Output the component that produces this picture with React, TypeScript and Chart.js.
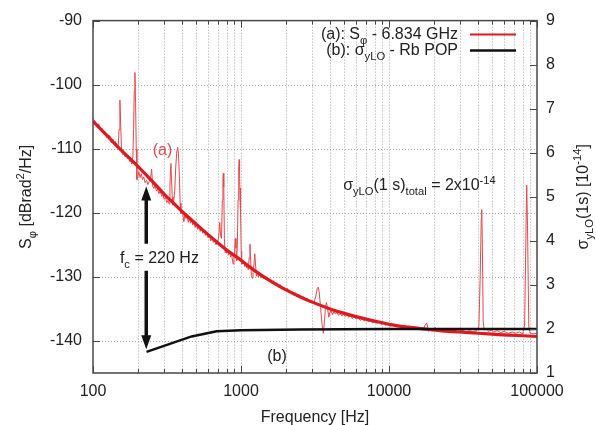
import React, { useEffect, useRef } from 'react';
import { Chart, registerables } from 'chart.js';

Chart.register(...registerables);

// ---------- data ----------
const FREQ_NOISY = [
  100, 103, 106, 109, 112, 115, 118, 121, 124, 127, 130, 133, 136, 139, 142, 145, 148, 150, 152, 154, 156, 159, 162, 165, 168, 171, 174, 177, 180, 183, 186, 188, 190, 192, 194, 196, 198,
  201, 204, 208, 212, 216, 220, 225, 230, 235, 240, 245, 249, 253, 258, 263, 268, 273, 279, 285, 291, 297, 303, 309, 315, 321, 327, 331, 334, 336, 339, 343, 347, 352, 357, 362, 368, 374, 378, 383, 388, 393, 399,
  405, 411, 418, 425, 432, 440, 448, 456, 464, 472, 480, 490, 500, 510, 520, 530, 541, 552, 563, 575, 587, 599, 611, 624, 637, 650, 663, 677, 691, 705, 718, 728, 738, 748, 755, 760, 765, 772, 780, 790,
  800, 812, 825, 838, 850, 862, 873, 885, 895, 905, 915, 925, 935, 945, 955, 965, 972, 978, 985, 990, 996,
  1003, 1010, 1020, 1030, 1045, 1060, 1075, 1090, 1105, 1120, 1135, 1150, 1162, 1175, 1190, 1205, 1220, 1240, 1255, 1270, 1290, 1310, 1335, 1360, 1390, 1420, 1450, 1480, 1510, 1545, 1580, 1620, 1660, 1700, 1745, 1790, 1840, 1890, 1940,
  2000, 2060, 2120, 2190, 2260, 2330, 2400, 2480, 2560, 2640, 2730, 2820, 2910, 3000, 3100, 3200, 3280, 3330, 3380, 3450, 3530, 3600, 3660, 3720, 3780, 3850, 3920, 3990, 4070, 4150, 4250, 4350, 4450, 4560, 4680, 4800, 4930,
  5060, 5200, 5350, 5500, 5650, 5800, 6000, 6200, 6400, 6600, 6800, 7000, 7250, 7500, 7750, 8000, 8300, 8600, 8900, 9200, 9500, 9800,
  10200, 10600, 11000, 11500, 12000, 12500, 13000, 13600, 14200, 14800, 15500, 16200, 17000, 17500, 18000, 18500, 19000, 19800, 20600, 21500, 22500, 23500, 24500, 26000, 27500, 29000, 31000, 33000, 35000, 37000, 39000,
  40500, 41300, 42000, 42300, 42700, 43300, 44000, 45500, 47000, 49000, 51000, 54000, 57000, 60000, 64000, 68000, 72000, 76000, 80000, 82500, 84000, 85200, 86300, 88000, 90000, 94000, 100000,
];
const S_NOISY = [
  -105.3, -105.9, -106.4, -106.1, -107.0, -106.8, -107.6, -107.4, -108.3, -107.9, -108.0, -109.1, -108.5, -109.3, -108.9, -109.8, -109.5, -107.0, -102.4, -106.5, -110.3, -110.9, -110.5, -111.3, -110.9, -111.6, -111.2, -112.0, -111.9, -112.4, -111.2, -107.0, -101.0, -98.1, -103.0, -110.0, -114.8,
  -114.3, -113.6, -114.5, -113.9, -114.8, -114.4, -115.3, -114.9, -115.6, -115.1, -114.6, -113.2, -115.8, -116.2, -115.7, -116.6, -116.3, -117.0, -116.6, -117.4, -117.2, -117.9, -117.6, -118.4, -118.1, -118.6, -116.0, -113.0, -112.3, -114.5, -117.5, -118.8, -118.0, -116.5, -113.0, -110.5, -109.8, -110.8, -114.0, -118.5, -120.1, -119.6,
  -120.3, -121.4, -120.2, -120.9, -120.4, -121.5, -120.8, -121.6, -121.0, -121.9, -121.4, -122.3, -121.7, -122.6, -122.0, -122.9, -122.4, -123.2, -122.7, -123.5, -123.0, -123.9, -123.4, -124.4, -123.8, -124.6, -124.1, -125.0, -124.6, -124.0, -121.5, -123.5, -124.0, -118.0, -114.5, -113.8, -116.0, -124.0, -126.2, -125.6,
  -126.3, -125.9, -126.6, -126.1, -126.9, -126.4, -127.2, -128.0, -127.0, -126.0, -124.0, -125.5, -127.5, -125.0, -118.0, -113.0, -111.7, -113.5, -118.0, -116.1, -120.0,
  -126.0, -128.0, -127.5, -128.0, -127.5, -128.4, -127.9, -128.6, -128.1, -128.9, -127.0, -124.9, -127.5, -129.8, -130.2, -129.3, -128.3, -126.4, -128.3, -129.9, -129.3, -130.0, -129.5, -130.1, -129.7, -130.3, -129.9, -130.5, -130.1, -130.7, -130.3, -131.0, -130.6, -131.3, -130.9, -131.6, -131.2, -131.9, -131.6,
  -132.2, -131.8, -132.5, -132.2, -132.8, -132.5, -133.1, -132.8, -133.4, -133.1, -133.7, -133.4, -134.0, -133.7, -134.2, -133.0, -131.8, -131.6, -132.5, -134.8, -137.5, -138.8, -137.0, -134.8, -134.0, -135.0, -136.3, -135.5, -135.3, -135.9, -135.4, -135.8, -135.5, -136.0, -135.7, -136.1, -135.8,
  -136.2, -135.9, -136.3, -136.0, -136.5, -136.2, -136.6, -136.3, -136.8, -136.5, -136.9, -136.6, -137.0, -136.8, -137.2, -136.9, -137.3, -137.0, -137.5, -137.2, -137.6, -137.3,
  -137.7, -137.4, -137.8, -137.5, -137.9, -137.6, -138.0, -137.7, -138.1, -137.8, -138.2, -137.9, -138.2, -137.6, -137.2, -138.5, -138.2, -138.3, -137.9, -138.4, -138.1, -138.5, -138.2, -138.5, -138.3, -138.6, -138.3, -138.6, -138.4, -138.6, -138.4,
  -137.8, -130.0, -121.0, -119.5, -124.0, -137.0, -138.3, -138.1, -138.5, -138.3, -138.6, -138.4, -138.7, -138.5, -138.8, -138.6, -138.8, -138.6, -138.9, -137.5, -125.0, -115.7, -122.0, -137.8, -138.8, -138.9, -138.8,
];

const FREQ_FIT = [100, 125, 150, 200, 250, 300, 350, 400, 500, 600, 700, 800, 1000, 1250, 1500, 2000, 2500, 3000, 4000, 5000, 6500, 8000, 10000, 13000, 17000, 22000, 30000, 40000, 55000, 75000, 100000];
const S_FIT = [-105.7, -108.0, -109.9, -112.7, -115.0, -117.0, -118.5, -119.8, -121.8, -123.4, -124.7, -125.8, -127.4, -129.1, -130.3, -132.0, -133.1, -133.9, -135.0, -135.7, -136.4, -136.9, -137.4, -137.8, -138.1, -138.4, -138.6, -138.8, -139.0, -139.15, -139.3];

const FREQ_B = [230, 464, 685, 1000, 2500, 10000, 100000];
const SIGMA_B = [1.48, 1.83, 1.95, 1.97, 1.99, 2.0, 2.0];

const X_LABELS = [100, 1000, 10000, 100000];
const Y_TICKS = [-140, -130, -120, -110, -100, -90];
const Y2_TICKS = [1, 2, 3, 4, 5, 6, 7, 8, 9];

// annotation anchors (data units)
const ARROW_FREQ = 229;
const ARROW_TOP_DB = -115.9;
const ARROW_BOTTOM_DB = -141.3;
const FC_LABEL_FREQ = 152;
const FC_LABEL_DB = -127;
const LABEL_A = { f: 295, db: -110.1 };
const LABEL_B = { f: 1750, db: -142.2 };
const SIGMA_NOTE = { f: 4900, db: -115.6 };

// ---------- styles ----------
const FONT = '"Liberation Sans", Arial, Helvetica, sans-serif';
const FS = 16;
const TEXT = '#222222';
const RED_THIN = '#e8474c';
const RED_FIT = '#e0191f';
const BLACK = '#111111';
const GRID = '#a8a8a8';
const FRAME = '#474747';

type Part = { t: string; k?: 'sub' | 'sup' };

function setFont(ctx: CanvasRenderingContext2D, size: number) {
  ctx.font = `${size}px ${FONT}`;
}
function partsWidth(ctx: CanvasRenderingContext2D, parts: Part[], size: number) {
  let w = 0;
  for (const p of parts) {
    setFont(ctx, p.k ? size * 0.7 : size);
    w += ctx.measureText(p.t).width;
  }
  return w;
}
function drawRich(
  ctx: CanvasRenderingContext2D,
  parts: Part[],
  x: number,
  y: number,
  size: number,
  align: 'left' | 'center' | 'right',
  color: string
) {
  const w = partsWidth(ctx, parts, size);
  let cx = align === 'left' ? x : align === 'center' ? x - w / 2 : x - w;
  ctx.fillStyle = color;
  ctx.textAlign = 'left';
  ctx.textBaseline = 'alphabetic';
  const base = y + size * 0.36;
  for (const p of parts) {
    const s = p.k ? size * 0.7 : size;
    setFont(ctx, s);
    const dy = p.k === 'sub' ? size * 0.3 : p.k === 'sup' ? -size * 0.42 : 0;
    ctx.fillText(p.t, cx, base + dy);
    cx += ctx.measureText(p.t).width;
  }
}

function buildLogTicks() {
  const t: { value: number }[] = [];
  for (let d = 100; d < 100000; d *= 10) {
    for (let m = 1; m <= 9; m++) t.push({ value: m * d });
  }
  t.push({ value: 100000 });
  return t;
}

const gridPlugin = {
  id: 'gridManual',
  beforeDatasetsDraw(chart: any) {
    const { ctx, chartArea: a, scales } = chart;
    const xs = scales.x;
    const ys = scales.y;
    ctx.save();
    ctx.strokeStyle = GRID;
    ctx.lineWidth = 1;
    ctx.setLineDash([1, 2]);
    ctx.beginPath();
    for (const tk of xs.ticks) {
      const px = Math.round(xs.getPixelForValue(tk.value)) + 0.5;
      if (px <= a.left + 1 || px >= a.right - 1) continue;
      ctx.moveTo(px, a.top);
      ctx.lineTo(px, a.bottom);
    }
    for (const v of Y_TICKS) {
      const py = Math.round(ys.getPixelForValue(v)) + 0.5;
      if (py <= a.top + 1 || py >= a.bottom - 1) continue;
      ctx.moveTo(a.left, py);
      ctx.lineTo(a.right, py);
    }
    ctx.stroke();
    ctx.restore();
  },
};

const decorPlugin = {
  id: 'decor',
  afterDraw(chart: any) {
    const { ctx, chartArea: a, scales } = chart;
    const xs = scales.x;
    const ys = scales.y;
    const y2 = scales.y2;
    ctx.save();

    // frame
    ctx.strokeStyle = FRAME;
    ctx.lineWidth = 1.5;
    ctx.strokeRect(a.left, a.top, a.right - a.left, a.bottom - a.top);

    // inward ticks
    ctx.lineWidth = 1;
    ctx.beginPath();
    for (const tk of xs.ticks) {
      const v = tk.value;
      const px = Math.round(xs.getPixelForValue(v)) + 0.5;
      const major = X_LABELS.includes(v);
      const len = major ? 7 : 4;
      ctx.moveTo(px, a.bottom);
      ctx.lineTo(px, a.bottom - len);
      ctx.moveTo(px, a.top);
      ctx.lineTo(px, a.top + len);
    }
    for (const v of Y_TICKS) {
      const py = Math.round(ys.getPixelForValue(v)) + 0.5;
      ctx.moveTo(a.left, py);
      ctx.lineTo(a.left + 7, py);
    }
    for (const v of Y2_TICKS) {
      const py = Math.round(y2.getPixelForValue(v)) + 0.5;
      ctx.moveTo(a.right, py);
      ctx.lineTo(a.right - 7, py);
    }
    ctx.stroke();

    // axis titles
    drawRich(ctx, [{ t: 'Frequency [Hz]' }], (a.left + a.right) / 2, 416, FS, 'center', TEXT);

    const midY = (a.top + a.bottom) / 2;
    ctx.save();
    ctx.translate(25, midY);
    ctx.rotate(-Math.PI / 2);
    drawRich(
      ctx,
      [{ t: 'S' }, { t: 'φ', k: 'sub' }, { t: ' [dBrad' }, { t: '2', k: 'sup' }, { t: '/Hz]' }],
      0,
      0,
      FS,
      'center',
      TEXT
    );
    ctx.restore();

    ctx.save();
    ctx.translate(582, midY);
    ctx.rotate(-Math.PI / 2);
    drawRich(
      ctx,
      [{ t: 'σ' }, { t: 'yLO', k: 'sub' }, { t: '(1s) [10' }, { t: '-14', k: 'sup' }, { t: ']' }],
      0,
      0,
      FS,
      'center',
      TEXT
    );
    ctx.restore();

    // legend
    const legRight = a.right - 79;
    const row1 = a.top + 13;
    const row2 = a.top + 29;
    drawRich(ctx, [{ t: '(a): S' }, { t: 'φ', k: 'sub' }, { t: ' - 6.834 GHz' }], legRight, row1, FS, 'right', TEXT);
    drawRich(ctx, [{ t: '(b): σ' }, { t: 'yLO', k: 'sub' }, { t: ' - Rb POP' }], legRight, row2, FS, 'right', TEXT);
    ctx.lineWidth = 2;
    ctx.strokeStyle = RED_FIT;
    ctx.beginPath();
    ctx.moveTo(a.right - 67, row1 + 1);
    ctx.lineTo(a.right - 21, row1 + 1);
    ctx.stroke();
    ctx.lineWidth = 2.5;
    ctx.strokeStyle = BLACK;
    ctx.beginPath();
    ctx.moveTo(a.right - 67, row2 + 1);
    ctx.lineTo(a.right - 21, row2 + 1);
    ctx.stroke();

    // labels
    drawRich(ctx, [{ t: '(a)' }], xs.getPixelForValue(LABEL_A.f), ys.getPixelForValue(LABEL_A.db), FS, 'center', RED_THIN);
    drawRich(ctx, [{ t: '(b)' }], xs.getPixelForValue(LABEL_B.f), ys.getPixelForValue(LABEL_B.db), FS, 'center', TEXT);
    drawRich(
      ctx,
      [{ t: 'σ' }, { t: 'yLO', k: 'sub' }, { t: '(1 s)' }, { t: 'total', k: 'sub' }, { t: ' = 2x10' }, { t: '-14', k: 'sup' }],
      xs.getPixelForValue(SIGMA_NOTE.f),
      ys.getPixelForValue(SIGMA_NOTE.db),
      FS,
      'left',
      TEXT
    );

    // f_c arrow
    const ax = xs.getPixelForValue(ARROW_FREQ);
    const aTop = ys.getPixelForValue(ARROW_TOP_DB);
    const aBot = ys.getPixelForValue(ARROW_BOTTOM_DB);
    const ty = ys.getPixelForValue(FC_LABEL_DB);
    const headL = 14;
    const headW = 5;
    ctx.strokeStyle = BLACK;
    ctx.fillStyle = BLACK;
    ctx.lineWidth = 3.5;
    ctx.beginPath();
    ctx.moveTo(ax, aTop + headL - 1);
    ctx.lineTo(ax, ty - 14);
    ctx.moveTo(ax, ty + 13);
    ctx.lineTo(ax, aBot - headL + 1);
    ctx.stroke();
    ctx.beginPath();
    ctx.moveTo(ax, aTop);
    ctx.lineTo(ax - headW, aTop + headL);
    ctx.lineTo(ax + headW, aTop + headL);
    ctx.closePath();
    ctx.fill();
    ctx.beginPath();
    ctx.moveTo(ax, aBot);
    ctx.lineTo(ax - headW, aBot - headL);
    ctx.lineTo(ax + headW, aBot - headL);
    ctx.closePath();
    ctx.fill();
    drawRich(
      ctx,
      [{ t: 'f' }, { t: 'c', k: 'sub' }, { t: ' = 220 Hz' }],
      xs.getPixelForValue(FC_LABEL_FREQ),
      ty,
      FS,
      'left',
      TEXT
    );

    ctx.restore();
  },
};

export default function App() {
  const ref = useRef<HTMLCanvasElement | null>(null);

  useEffect(() => {
    if (!ref.current) return;
    const noisy = FREQ_NOISY.map((f, i) => ({ x: f, y: S_NOISY[i] }));
    const fit = FREQ_FIT.map((f, i) => ({ x: f, y: S_FIT[i] }));
    const sig = FREQ_B.map((f, i) => ({ x: f, y: SIGMA_B[i] }));
    const tickFont = { family: FONT, size: FS };

    const chart = new Chart(ref.current, {
      type: 'line',
      data: {
        datasets: [
          {
            label: 'sigma',
            data: sig,
            yAxisID: 'y2',
            borderColor: BLACK,
            borderWidth: 2.5,
            pointRadius: 0,
            order: 0,
          },
          {
            label: 'fit',
            data: fit,
            yAxisID: 'y',
            borderColor: RED_FIT,
            borderWidth: 3.2,
            pointRadius: 0,
            tension: 0.3,
            order: 1,
          },
          {
            label: 'noisy',
            data: noisy,
            yAxisID: 'y',
            borderColor: RED_THIN,
            borderWidth: 1,
            pointRadius: 0,
            order: 2,
          },
        ],
      },
      options: {
        animation: false,
        responsive: true,
        maintainAspectRatio: false,
        layout: { padding: { top: 18, left: 0, right: 0, bottom: 0 } },
        plugins: { legend: { display: false }, tooltip: { enabled: false } },
        scales: {
          x: {
            type: 'logarithmic',
            min: 100,
            max: 100000,
            position: 'bottom',
            afterBuildTicks: (s: any) => {
              s.ticks = buildLogTicks();
            },
            afterFit: (s: any) => {
              s.height = 52;
            },
            grid: { display: false, drawTicks: false },
            border: { display: false },
            ticks: {
              autoSkip: false,
              maxRotation: 0,
              minRotation: 0,
              padding: 9,
              color: TEXT,
              font: tickFont,
              callback: (v: any) => (X_LABELS.includes(Number(v)) ? String(v) : ''),
            },
          },
          y: {
            type: 'linear',
            min: -145,
            max: -90,
            position: 'left',
            afterBuildTicks: (s: any) => {
              s.ticks = Y_TICKS.map((v) => ({ value: v }));
            },
            afterFit: (s: any) => {
              s.width = 93;
            },
            grid: { display: false, drawTicks: false },
            border: { display: false },
            ticks: { padding: 11, color: TEXT, font: tickFont, callback: (v: any) => String(v) },
          },
          y2: {
            type: 'linear',
            min: 1,
            max: 9,
            position: 'right',
            afterBuildTicks: (s: any) => {
              s.ticks = Y2_TICKS.map((v) => ({ value: v }));
            },
            afterFit: (s: any) => {
              s.width = 59;
            },
            grid: { display: false, drawTicks: false },
            border: { display: false },
            ticks: { padding: 9, color: TEXT, font: tickFont, callback: (v: any) => String(v) },
          },
        },
      },
      plugins: [gridPlugin, decorPlugin],
    });
    return () => chart.destroy();
  }, []);

  return (
    <div style={{ position: 'absolute', left: 0, top: 0, width: 596, height: 425, background: '#ffffff' }}>
      <canvas ref={ref} />
    </div>
  );
}
